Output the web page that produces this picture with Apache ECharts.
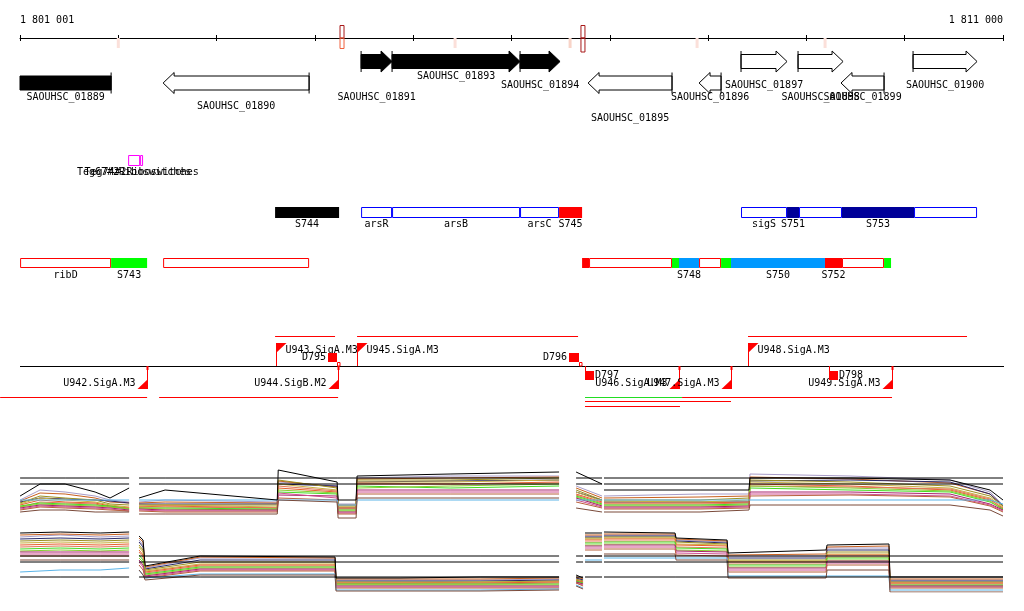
<!DOCTYPE html>
<html><head><meta charset="utf-8">
<script src="https://cdn.jsdelivr.net/npm/echarts@6.0.0/dist/echarts.min.js"></script>
<style>html,body{margin:0;padding:0;background:#fff}#c{width:1024px;height:611px}</style>
</head><body><div id="c"></div>
<script>
// ---------------- DATA ----------------
const rangeMin = 1801000, rangeMax = 1811000, tickStep = 1000;
const tickLabels = ['1 801 001', '1 811 000'];

const geneNames  = ['SAOUHSC_01889','SAOUHSC_01890','SAOUHSC_01891','SAOUHSC_01893','SAOUHSC_01894','SAOUHSC_01895','SAOUHSC_01896','SAOUHSC_01897','SAOUHSC_01898','SAOUHSC_01899','SAOUHSC_01900'];
const geneStart  = [1800600, 1802456, 1804470, 1804785, 1806087, 1806779, 1807908, 1808335, 1808915, 1809352, 1810085];
const geneEnd    = [1801927, 1803941, 1804785, 1806087, 1806494, 1807633, 1808132, 1808803, 1809373, 1809790, 1810736];
const geneStrand = ['-','-','+','+','+','-','-','+','+','-','+'];
const geneHighlight = [1,0,1,1,1,0,0,0,0,0,0];

const tssPos   = [1802000, 1804276, 1805426, 1806596, 1806727, 1807888, 1809190];
const tssScore = [0.15, 0.9, 0.15, 0.2, 1.0, 0.15, 0.15];

const featNames = ['S744','arsR','arsB','arsC','S745','sigS','S751','','S753','',
                   'ribD','S743','','','','','S748','','','S750','S752','','',
                   'Teg67#2Riboswitches','Teg74#2Riboswitches'];
const featStart = [1803595,1804470,1804785,1806087,1806484,1808335,1808803,1808925,1809362,1810095,
                   1801001,1801927,1802456,1806718,1806789,1807633,1807704,1807908,1808132,1808233,1809189,1809362,1809790,
                   1802100,1802222];
const featEnd   = [1804246,1804785,1806087,1806484,1806718,1808803,1808925,1809362,1810095,1810736,
                   1801927,1802293,1803941,1806789,1807633,1807704,1807908,1808132,1808233,1809189,1809362,1809790,1809861,
                   1802222,1802252];
const featKind  = ['black','tuBlue','tuBlue','tuBlue','red','tuBlue','navy','tuBlue','navy','tuBlue',
                   'tuRed','green','tuRed','red','tuRed','green','sky','tuRed','green','sky','red','tuRed','green',
                   'ribo','ribo'];
const featRow   = [0,0,0,0,0,0,0,0,0,0, 1,1,1,1,1,1,1,1,1,1,1,1,1, 2,2];

const promNames  = ['U942.SigA.M3','U943.SigA.M3','U944.SigB.M2','U945.SigA.M3','U946.SigA.M3','U947.SigA.M3','U948.SigA.M3','U949.SigA.M3'];
const promPos    = [1802293, 1803605, 1804236, 1804429, 1807704, 1808233, 1808406, 1809871];
const promStrand = ['-','+','-','+','-','-','+','-'];

const termNames  = ['D795','D796','D797','D798'];
const termStart  = [1804134, 1806585, 1806748, 1809230];
const termEnd    = [1804226, 1806687, 1806839, 1809322];
const termStrand = ['+','+','-','-'];

const trStart  = [1803595, 1804429, 1808406, 1800798, 1802415, 1806748, 1807735, 1806748, 1806748];
const trEnd    = [1804205, 1806677, 1810634, 1802293, 1804236, 1807735, 1809871, 1808233, 1807714];
const trStrand = ['+','+','+','-','-','-','-','-','-'];
const trLevel  = [0,0,0,0,0,0,0,1,2];
const trKind   = ['main','main','main','main','main','alt','main','main','main'];

// expression, upper track (null = no data)
const upX = [1801001,1801204,1801459,1801764,1801916,1802110, 1802161,
  1802211,1802476,1803617,1803627,1804226,1804236,1804419,1804429,1805375,1806484, 1806565,
  1806657,1806921, 1806931, 1806941,1807918,1808416,1808426,1809444,1810461,1810868,1811000];
const upBlack    = [32,44,44,36,30,40,null,30,38,28,58,46,28,28,52,54,56,null,56,44,null,38,38,38,50,50,48,38,28];
const upLavender = [28,38,36,32,28,26,null,26,28,26,46,42,24,24,50,52,52,null,42,32,null,32,34,34,54,52,48,36,23];
const upChoc     = [27,35,34,30,26,25,null,25,26,25,47,41,23,23,49,50,51,null,40,30,null,30,31,32,51,49,45,34,22];
const upNavy     = [26,30,29,28,27,25,null,24,24,24,44,42,20,20,46,47,48,null,36,28,null,26,26,26,47,48,46,34,22];
const upOlive    = [25,32,30,28,24,23,null,23,23,23,48,40,22,22,48,48,50,null,38,28,null,28,28,30,48,46,42,32,22];
const upKhaki    = [24,30,28,26,23,21,null,22,23,21,44,38,21,21,46,46,48,null,36,27,null,27,26,28,46,44,40,30,21];
const upOrange   = [23,28,26,25,22,20,null,21,22,20,40,36,20,20,44,44,46,null,34,26,null,25,25,26,44,42,38,28,20];
const upSalmon   = [21,26,25,24,21,20,null,21,21,20,42,37,19,19,45,44,45,null,33,25,null,24,24,25,42,41,39,29,19];
const upGreen    = [22,25,24,23,22,19,null,20,20,19,36,34,18,18,42,40,42,null,32,24,null,23,23,24,40,38,36,26,19];
const upLime     = [21,24,23,22,21,19,null,20,19,18,38,35,17,17,40,42,44,null,31,23,null,22,22,23,42,40,37,27,18];
const upMagenta  = [20,23,22,21,20,18,null,19,18,18,33,32,16,16,38,38,38,null,30,22,null,21,21,22,36,36,34,24,18];
const upPink     = [19,22,21,20,19,17,null,18,17,17,35,30,15,15,36,36,36,null,28,21,null,20,20,21,34,34,32,23,17];
const upBrown    = [18,21,20,19,18,17,null,17,16,16,30,28,14,14,34,34,34,null,26,20,null,19,19,20,32,33,31,22,16];
const upSky      = [28,28,28,28,28,28,null,28,28,28,28,28,23,23,28,28,28,null,28,28,null,28,28,28,28,28,28,28,24];
const upDark     = [16,18,18,16,16,16,null,14,14,14,28,26,10,10,30,30,30,null,20,16,null,16,16,18,23,23,23,18,12];
const upRefLevels = [50, 44];

// expression, lower track
const lowX = [1801001,1801408,1801815,1802110, 1802161,
  1802211,1802252,1802273,1802832,1804205,1804215,1804866,1805680,1806484, 1806565,
  1806657,1806728, 1806738, 1806748,1806921, 1806931,
  1806941,1807664,1807674,1808193,1808203,1809200,1809210,1809840,1809850,1811000];
const lowBlack    = [59,60,59,60,null,56,52,26,36,35,14,14,15,15,null,17,14,null,59,59,null,60,59,54,52,39,42,47,48,15,15];
const lowChoc     = [57,58,57,58,null,54,50,25,35,34,13,13,13,14,null,15,13,null,57,57,null,58,58,53,51,37,38,45,46,13,13];
const lowLavender = [55,57,55,56,null,52,47,24,34,34,12,12,12,13,null,14,12,null,56,56,null,57,57,52,50,36,36,44,44,12,12];
const lowNavy     = [53,54,53,54,null,50,45,23,32,32,11,11,11,12,null,14,12,null,55,55,null,56,56,51,49,34,34,42,42,11,11];
const lowOlive    = [51,52,51,52,null,47,42,22,30,30,10,10,10,11,null,13,11,null,54,54,null,55,55,50,48,32,32,40,40,10,10];
const lowKhaki    = [49,50,49,50,null,45,40,21,28,28,9,9,10,10,null,12,10,null,53,53,null,54,54,48,47,31,31,38,38,9,9];
const lowOrange   = [47,48,47,48,null,42,37,20,27,27,9,9,9,10,null,12,10,null,52,52,null,53,53,47,46,30,30,37,37,9,9];
const lowSalmon   = [45,46,45,46,null,40,35,19,26,26,8,8,8,9,null,11,9,null,50,50,null,51,51,45,44,28,28,35,35,8,8];
const lowGreen    = [43,44,43,44,null,37,32,18,25,25,8,8,8,8,null,11,9,null,49,49,null,50,50,44,43,27,27,34,34,7,7];
const lowLime     = [41,42,41,42,null,34,30,17,24,24,7,7,7,7,null,10,8,null,47,47,null,48,48,42,41,25,25,32,32,6,6];
const lowMagenta  = [40,40,40,40,null,32,27,16,23,23,6,6,6,6,null,10,8,null,46,46,null,47,47,41,40,24,24,31,31,6,6];
const lowPink     = [38,38,38,38,null,30,25,15,22,22,5,5,5,5,null,9,7,null,44,44,null,45,45,39,38,22,22,29,29,5,5];
const lowBrown    = [36,36,36,36,null,27,22,14,21,21,4,4,4,4,null,9,6,null,42,42,null,43,43,37,36,20,20,27,27,4,4];
const lowSky      = [20,22,22,24,null,22,17,14,18,18,2,2,2,3,null,7,4,null,32,32,null,34,34,34,34,16,16,16,16,2,2];
const lowDark     = [32,32,32,32,null,22,17,12,17,17,1,1,1,2,null,6,3,null,36,36,null,38,38,32,32,14,14,22,22,0,0];
const lowRefLevels = [36, 30, 15];

// ---------------- STYLE / LAYOUT ----------------
const FONT = '10px "DejaVu Sans Mono"';
const geneLabelY = [97,106,97,76,85,118,97,85,97,97,85];
const kindStyle = {
  black:{fill:'#000000'}, red:{fill:'#ff0000'}, green:{fill:'#00ff00'}, navy:{fill:'#000099'}, sky:{fill:'#0099ff'},
  tuBlue:{fill:'#ffffff', stroke:'#0000ff'}, tuRed:{fill:'#ffffff', stroke:'#ff0000'}, ribo:{fill:'#ffffff', stroke:'#ff00ff'}
};
const rowTop = [207, 258, 155], rowH = [11, 10, 11], rowLabelDy = [17, 17, 17];
const trY = {'+':[336], '-':[397, 401, 406]};
const trColor = {main:'#ff0000', alt:'#22dd22'};
const lineColors = ['#a89cc8','#c8601e','#2a2a6a','#9c9020','#c8b040','#e8602c','#e07858','#44dd22','#88cc30','#a8206c','#d05090','#b8603c','#5ab4e8','#7a4a3a','#000000'];

function txt(text, x, y, align) {
  return {type:'text', style:{text, x, y, font:FONT, fill:'#000', align, verticalAlign:'middle', textAlign:align, textVerticalAlign:'middle'}};
}
function X(api, bp){ return api.coord([bp, 0])[0]; }

const chart = echarts.init(document.getElementById('c'), null, {renderer:'canvas'});
const xBase = {type:'value', min:rangeMin, max:rangeMax, interval:tickStep, splitLine:{show:false}};
const hiddenX = g => Object.assign({}, xBase, {gridIndex:g, show:false});

function trackSeries(xs, arrays, refs, xi, yi) {
  const out = [];
  arrays.forEach((arr, k) => {
    out.push({type:'line', xAxisIndex:xi, yAxisIndex:yi, showSymbol:false, symbol:'none', connectNulls:false,
      animation:false, silent:true, lineStyle:{width:1, color:lineColors[k]}, itemStyle:{color:lineColors[k]},
      data: xs.map((x,i)=>[x, arr[i]===null ? '-' : arr[i]])});
  });
  refs.forEach(lv => {
    out.push({type:'line', xAxisIndex:xi, yAxisIndex:yi, showSymbol:false, symbol:'none', connectNulls:false,
      animation:false, silent:true, z:3, lineStyle:{width:1, color:'#000'},
      data: xs.map((x,i)=>[x, arrays[0][i]===null ? '-' : lv])});
  });
  return out;
}

const gridBase = {left:20, right:21, containLabel:false, outerBoundsMode:'none'};
const option = {
  animation:false,
  backgroundColor:'#ffffff',
  grid:[
    Object.assign({}, gridBase, {top:38, height:20}),
    Object.assign({}, gridBase, {top:0, bottom:0}),
    Object.assign({}, gridBase, {top:468, height:60}),
    Object.assign({}, gridBase, {top:528, height:64})
  ],
  xAxis:[
    Object.assign({}, xBase, {gridIndex:0, position:'top', offset:0,
      axisLine:{show:true, onZero:false, lineStyle:{color:'#000', width:1}},
      axisTick:{show:true, length:3, lineStyle:{color:'#000'}},
      axisLabel:{show:true, margin:13, color:'#000', fontFamily:'DejaVu Sans Mono', fontSize:10,
        showMinLabel:true, showMaxLabel:true, alignMinLabel:'left', alignMaxLabel:'right', hideOverlap:false,
        formatter: v => v === rangeMin ? tickLabels[0] : (v === rangeMax ? tickLabels[1] : '')}}),
    Object.assign({}, xBase, {gridIndex:0, position:'top', offset:0,
      axisLine:{show:false, onZero:false}, axisTick:{show:true, inside:true, length:3, lineStyle:{color:'#000'}}, axisLabel:{show:false}}),
    hiddenX(1), hiddenX(2), hiddenX(3)
  ],
  yAxis:[
    {gridIndex:0, type:'value', show:false, min:0, max:1},
    {gridIndex:1, type:'value', show:false, min:0, max:611, inverse:true},
    {gridIndex:2, type:'value', show:false, min:0, max:60},
    {gridIndex:3, type:'value', show:false, min:0, max:64}
  ],
  series:[
    // TSS marks on ruler
    {type:'custom', xAxisIndex:2, yAxisIndex:1, silent:true, z:5,
      data: tssPos.map((p,i)=>[p, i]), encode:{x:0},
      renderItem:(params, api)=>{
        const i = api.value(1), x = X(api, tssPos[i]), s = tssScore[i];
        if (s < 0.5) return {type:'rect', shape:{x:x-1.5, y:38, width:3, height:10}, style:{fill: s < 0.18 ? '#fbe0da' : '#f8d4c8'}};
        return {type:'group', children:[
          {type:'rect', shape:{x:x-2, y:25.5, width:4, height:12.5}, style:{fill:'none', stroke:'#a81818', lineWidth:1}},
          {type:'rect', shape:{x:x-2, y:38, width:4, height: s >= 0.95 ? 14 : 10.5}, style:{fill:'none', stroke: s >= 0.95 ? '#a81818' : '#f0603c', lineWidth:1}}
        ]};
      }},
    // genes
    {type:'custom', xAxisIndex:2, yAxisIndex:1, silent:true, clip:false,
      data: geneNames.map((n,i)=>[geneStart[i], geneEnd[i], i]), encode:{x:[0,1]},
      renderItem:(params, api)=>{
        const i = api.value(2), cs = params.coordSys;
        let x1 = X(api, geneStart[i]), x2 = X(api, geneEnd[i]);
        const cutL = x1 < cs.x, cutR = x2 > cs.x + cs.width;
        x1 = Math.max(x1, cs.x); x2 = Math.min(x2, cs.x + cs.width);
        const fwd = geneStrand[i] === '+';
        const cy = fwd ? 61.5 : 83, bh = 7, hh = 10.5, hl = 11;
        let pts, tx;
        if (fwd) {
          tx = x1;
          pts = cutR ? [[x1,cy-bh],[x2,cy-bh],[x2,cy+bh],[x1,cy+bh]]
            : [[x1,cy-bh],[x2-hl,cy-bh],[x2-hl,cy-hh],[x2,cy],[x2-hl,cy+hh],[x2-hl,cy+bh],[x1,cy+bh]];
        } else {
          tx = x2;
          pts = cutL ? [[x1,cy-bh],[x2,cy-bh],[x2,cy+bh],[x1,cy+bh]]
            : [[x2,cy-bh],[x1+hl,cy-bh],[x1+hl,cy-hh],[x1,cy],[x1+hl,cy+hh],[x1+hl,cy+bh],[x2,cy+bh]];
        }
        const fill = geneHighlight[i] ? '#000' : '#fff';
        return {type:'group', children:[
          {type:'polygon', shape:{points:pts}, style:{fill, stroke:'#000', lineWidth:1}},
          {type:'line', shape:{x1:tx, y1:cy-hh, x2:tx, y2:cy+hh}, style:{stroke:'#000', lineWidth:1}},
          txt(geneNames[i], (x1+x2)/2, geneLabelY[i], 'center')
        ]};
      }},
    // features
    {type:'custom', xAxisIndex:2, yAxisIndex:1, silent:true,
      data: featNames.map((n,i)=>[featStart[i], featEnd[i], i]), encode:{x:[0,1]},
      renderItem:(params, api)=>{
        const i = api.value(2), r = featRow[i], st = kindStyle[featKind[i]];
        const x1 = X(api, featStart[i]), x2 = X(api, featEnd[i]), top = rowTop[r], h = rowH[r];
        const ch = [];
        if (st.stroke) ch.push({type:'rect', shape:{x:x1+0.5, y:top+0.5, width:x2-x1-1, height:h-1}, style:{fill:st.fill, stroke:st.stroke, lineWidth:1}});
        else ch.push({type:'rect', shape:{x:x1, y:top, width:x2-x1, height:h}, style:{fill:st.fill}});
        if (featNames[i]) ch.push(txt(featNames[i], (x1+x2)/2, top + rowLabelDy[r], 'center'));
        return {type:'group', children:ch};
      }},
    // transcripts
    {type:'custom', xAxisIndex:2, yAxisIndex:1, silent:true, clip:false,
      data: trStart.map((s,i)=>[s, trEnd[i], i]), encode:{x:[0,1]},
      renderItem:(params, api)=>{
        const i = api.value(2), y = trY[trStrand[i]][trLevel[i]] + 0.5;
        const x1 = Math.max(0, X(api, trStart[i])), x2 = X(api, trEnd[i]);
        return {type:'line', shape:{x1, y1:y, x2, y2:y}, style:{stroke:trColor[trKind[i]], lineWidth:1}};
      }},
    // promoters + baseline
    {type:'custom', xAxisIndex:2, yAxisIndex:1, silent:true, z:4,
      data: promPos.map((p,i)=>[p, i]), encode:{x:0},
      renderItem:(params, api)=>{
        const i = api.value(1), cs = params.coordSys, x = Math.round(X(api, promPos[i])) + 0.5;
        const ch = [];
        if (i === 0) ch.push({type:'line', shape:{x1:cs.x, y1:366.5, x2:cs.x+cs.width+1, y2:366.5}, style:{stroke:'#000', lineWidth:1}});
        if (promStrand[i] === '+') {
          ch.push({type:'line', shape:{x1:x, y1:366, x2:x, y2:343}, style:{stroke:'#ff0000', lineWidth:1}});
          ch.push({type:'polygon', shape:{points:[[x-0.5,343],[x+10,343],[x-0.5,353]]}, style:{fill:'#ff0000'}});
          ch.push(txt(promNames[i], x+9, 350.5, 'left'));
        } else {
          ch.push({type:'line', shape:{x1:x, y1:366, x2:x, y2:389}, style:{stroke:'#ff0000', lineWidth:1}});
          ch.push({type:'rect', shape:{x:x-1, y:366, width:2, height:4}, style:{fill:'#ff0000'}});
          ch.push({type:'polygon', shape:{points:[[x+0.5,389],[x-10,389],[x+0.5,379]]}, style:{fill:'#ff0000'}});
          ch.push(txt(promNames[i], x-12, 383.5, 'right'));
        }
        return {type:'group', children:ch};
      }},
    // terminators
    {type:'custom', xAxisIndex:2, yAxisIndex:1, silent:true, z:4,
      data: termNames.map((n,i)=>[termStart[i], termEnd[i], i]), encode:{x:[0,1]},
      renderItem:(params, api)=>{
        const i = api.value(2), x1 = Math.round(X(api, termStart[i])), x2 = Math.round(X(api, termEnd[i]));
        if (termStrand[i] === '+') return {type:'group', children:[
          {type:'rect', shape:{x:x1, y:353, width:x2-x1, height:9}, style:{fill:'#ff0000'}},
          {type:'rect', shape:{x:x2+0.5, y:362.5, width:2.5, height:3.5}, style:{fill:'#fff', stroke:'#ff0000', lineWidth:1}},
          txt(termNames[i], x1-2, 357.5, 'right')]};
        return {type:'group', children:[
          {type:'line', shape:{x1:x1+0.5, y1:366, x2:x1+0.5, y2:371}, style:{stroke:'#ff0000', lineWidth:1}},
          {type:'rect', shape:{x:x1, y:371, width:x2-x1, height:9}, style:{fill:'#ff0000'}},
          txt(termNames[i], x2+1, 375, 'left')]};
      }}
  ]
  .concat(trackSeries(upX, [upLavender,upChoc,upNavy,upOlive,upKhaki,upOrange,upSalmon,upGreen,upLime,upMagenta,upPink,upBrown,upSky,upDark,upBlack], upRefLevels, 3, 2))
  .concat(trackSeries(lowX, [lowLavender,lowChoc,lowNavy,lowOlive,lowKhaki,lowOrange,lowSalmon,lowGreen,lowLime,lowMagenta,lowPink,lowBrown,lowSky,lowDark,lowBlack], lowRefLevels, 4, 3))
};
chart.setOption(option);
</script>
</body></html>
